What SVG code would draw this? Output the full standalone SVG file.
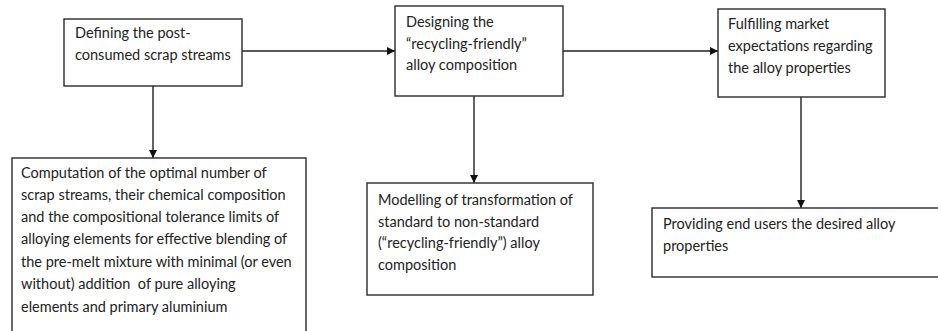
<svg xmlns="http://www.w3.org/2000/svg" width="938" height="331" viewBox="0 0 938 331">
<defs>
<marker id="arr" markerUnits="userSpaceOnUse" markerWidth="9" markerHeight="8" refX="8" refY="4" orient="auto">
<path d="M0,0 L8,4 L0,8 Z" fill="#111"/>
</marker>
<style>
.box{fill:#fff;stroke:#2a2a2a;stroke-width:1.4}
.t{font-family:Lato,"Liberation Sans",sans-serif;font-size:14.5px;fill:#222;white-space:pre}
.c{fill:none;stroke:#222;stroke-width:1.4;marker-end:url(#arr)}
</style>
</defs>
<rect width="938" height="331" fill="#fff"/>
<g id="connectors">
<path class="c" d="M242,51 H395"/>
<path class="c" d="M563,51 H718"/>
<path class="c" d="M153,86 V158"/>
<path class="c" d="M474,96 V183"/>
<path class="c" d="M801,97 V208"/>
</g>
<g id="n1">
<rect class="box" x="64" y="19" width="178" height="67"/>
<text class="t" x="75" y="38">Defining the post-</text>
<text class="t" x="75" y="60">consumed scrap streams</text>
</g>
<g id="n2">
<rect class="box" x="395" y="6" width="168" height="90"/>
<text class="t" x="406" y="27">Designing the</text>
<text class="t" x="406" y="49">“recycling-friendly”</text>
<text class="t" x="406" y="70">alloy composition</text>
</g>
<g id="n3">
<rect class="box" x="718" y="9" width="167" height="88"/>
<text class="t" x="728" y="29">Fulfilling market</text>
<text class="t" x="728" y="51">expectations regarding</text>
<text class="t" x="728" y="73">the alloy properties</text>
</g>
<g id="n4">
<rect class="box" x="12" y="158" width="294" height="190"/>
<text class="t" x="21" y="178">Computation of the optimal number of</text>
<text class="t" x="21" y="200">scrap streams, their chemical composition</text>
<text class="t" x="21" y="222">and the compositional tolerance limits of</text>
<text class="t" x="21" y="244">alloying elements for effective blending of</text>
<text class="t" x="21" y="267">the pre-melt mixture with minimal (or even</text>
<text class="t" x="21" y="289" xml:space="preserve">without) addition  of pure alloying</text>
<text class="t" x="21" y="312">elements and primary aluminium</text>
</g>
<g id="n5">
<rect class="box" x="367" y="183" width="226" height="112"/>
<text class="t" x="378" y="205">Modelling of transformation of</text>
<text class="t" x="378" y="227">standard to non-standard</text>
<text class="t" x="378" y="248">(“recycling-friendly”) alloy</text>
<text class="t" x="378" y="270">composition</text>
</g>
<g id="n6">
<rect class="box" x="652" y="208" width="300" height="69"/>
<text class="t" x="663" y="229">Providing end users the desired alloy</text>
<text class="t" x="663" y="251">properties</text>
</g>
</svg>
